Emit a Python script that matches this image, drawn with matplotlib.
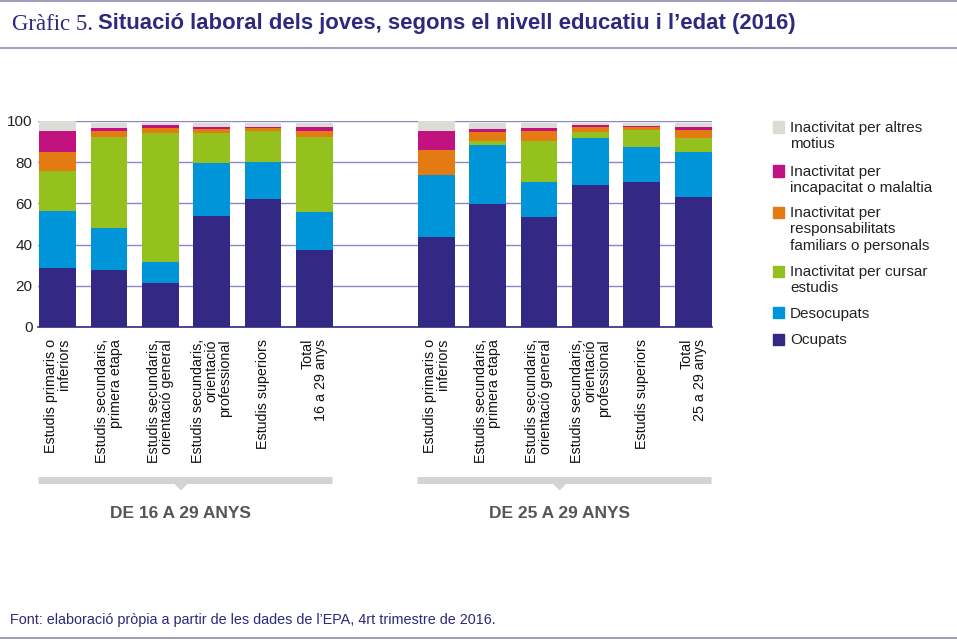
import matplotlib.pyplot as plt
from matplotlib.patches import Rectangle, Polygon
from matplotlib.transforms import blended_transform_factory
import numpy as np

# --- data ---
estudis = ["Estudis primaris o\ninferiors",
           "Estudis secundaris,\nprimera etapa",
           "Estudis secundaris,\norientació general",
           "Estudis secundaris,\norientació\nprofessional",
           "Estudis superiors"]
labels_16 = estudis + ["Total\n16 a 29 anys"]
labels_25 = estudis + ["Total\n25 a 29 anys"]
grups = ["DE 16 A 29 ANYS", "DE 25 A 29 ANYS"]

# bottom -> top, 6 bars of 16-29 then 6 bars of 25-29
ocupats    = [28.4, 27.9, 21.2, 54.1, 61.9, 37.2,   43.5, 59.9, 53.6, 69.1, 70.6, 63.3]
desocupats = [27.7, 20.4, 10.3, 25.5, 18.2, 18.4,   30.2, 28.6, 17.0, 22.7, 17.0, 21.8]
cursar     = [19.8, 43.9, 62.7, 14.6, 14.9, 36.8,    0.0,  1.6, 19.9,  2.9,  8.0,  6.7]
respons    = [ 9.1,  3.1,  2.6,  2.1,  1.4,  2.9,   12.2,  4.6,  4.8,  2.6,  1.3,  3.8]
incapac    = [10.0,  1.3,  1.1,  1.0,  0.7,  1.6,    9.4,  1.6,  1.5,  0.9,  0.7,  1.7]
altres     = [ 5.0,  2.3,  1.3,  1.6,  1.8,  2.0,    4.7,  2.6,  2.1,  1.0,  1.3,  1.6]

series = [ocupats, desocupats, cursar, respons, incapac, altres]
noms = ["Ocupats", "Desocupats", "Inactivitat per cursar\nestudis",
        "Inactivitat per\nresponsabilitats\nfamiliars o personals",
        "Inactivitat per\nincapacitat o malaltia",
        "Inactivitat per altres\nmotius"]
colors = ["#332883", "#0095d9", "#95c11f", "#e37b12", "#c2127f", "#dcdcd6"]

navy = "#2d2a7d"
W, H = 957, 643
fig = plt.figure(figsize=(W / 100, H / 100), dpi=100)


def fx(x):
    return x / W


def fy(y):
    return 1 - y / H


sans = ["Liberation Sans", "DejaVu Sans"]

# axes placed in pixels
ax = fig.add_axes([fx(38), fy(327), (712 - 38) / W, (327 - 121) / H])

x = np.r_[np.arange(6), np.arange(6) + 7.37]
bottom = np.zeros(len(x))
for vals, c in zip(series, colors):
    ax.bar(x, vals, width=0.715, bottom=bottom, color=c, zorder=3)
    bottom += np.array(vals)

ax.set_xlim(-0.38, 12.735)
ax.set_ylim(0, 100)
ax.set_yticks(range(0, 101, 20))
ax.yaxis.grid(True, color="#8c86c4", linewidth=1, zorder=0)
ax.tick_params(axis="y", length=0, pad=4, labelsize=11, labelcolor="#222222")
for t in ax.get_yticklabels():
    t.set_family(sans)
ax.set_xticks([])
for s in ["top", "right", "left"]:
    ax.spines[s].set_visible(False)
ax.spines["bottom"].set_color("#2e2a82")
ax.spines["bottom"].set_linewidth(1.2)
ax.spines["bottom"].set_zorder(4)

# rotated category labels
tr = blended_transform_factory(ax.transData, fig.transFigure)
for xi, lab in zip(x, labels_16 + labels_25):
    ax.text(xi, fy(339), lab, transform=tr, rotation=90, ha="center", va="top",
            multialignment="right", fontsize=10.3, family=sans, color="#111111",
            linespacing=0.95)

# group brackets
for i, g in enumerate(grups):
    x0 = x[i * 6] - 0.3575 - 0.02
    x1 = x[i * 6 + 5] + 0.3575 - 0.02
    ax.plot([x0, x1], [fy(479.5)] * 2, transform=tr, color="#d3d3d3",
            linewidth=5, solid_capstyle="butt", clip_on=False)
    xc = x[i * 6] + 2.4
    d = 8.5 / 51.3
    ax.add_patch(Polygon([[xc - d, fy(481)], [xc + d, fy(481)], [xc, fy(489.5)]],
                         closed=True, transform=tr, color="#d3d3d3", clip_on=False))
    ax.text(xc, fy(514), g, transform=tr, ha="center", va="center",
            fontsize=12.5, fontweight="bold", family=sans, color="#555555")

# legend drawn by hand
leg_y = [127, 171, 212, 271, 313, 339]
for yy, nom, c in zip(leg_y, noms[::-1], colors[::-1]):
    fig.patches.append(Rectangle((fx(773), fy(yy + 5.5)), 11 / W, 11 / H,
                                 transform=fig.transFigure, color=c))
    fig.text(fx(790), fy(yy - 6), nom, ha="left", va="top", fontsize=11,
             family=sans, color="#222222", linespacing=1.22)

# title
t1 = fig.text(fx(12), fy(24), "Gràfic 5.", ha="left", va="center", fontsize=16.5,
              family=["Liberation Serif", "DejaVu Serif"], color=navy)
fig.canvas.draw()
bb = t1.get_window_extent()
fig.text(fx(bb.x1 + 5), fy(24), "Situació laboral dels joves, segons el nivell educatiu i l’edat (2016)",
         ha="left", va="center", fontsize=15.9, fontweight="bold", family=sans, color=navy)

# footer
fig.text(fx(10), fy(620), "Font: elaboració pròpia a partir de les dades de l’EPA, 4rt trimestre de 2016.",
         ha="left", va="center", fontsize=10.4, family=sans, color=navy)

# rules
for yy in [0.8, 48, 638]:
    fig.add_artist(plt.Line2D([0, 1], [fy(yy)] * 2, transform=fig.transFigure,
                              color="#9d9bb9", linewidth=1.4))

fig.savefig("out.png", dpi=100)
